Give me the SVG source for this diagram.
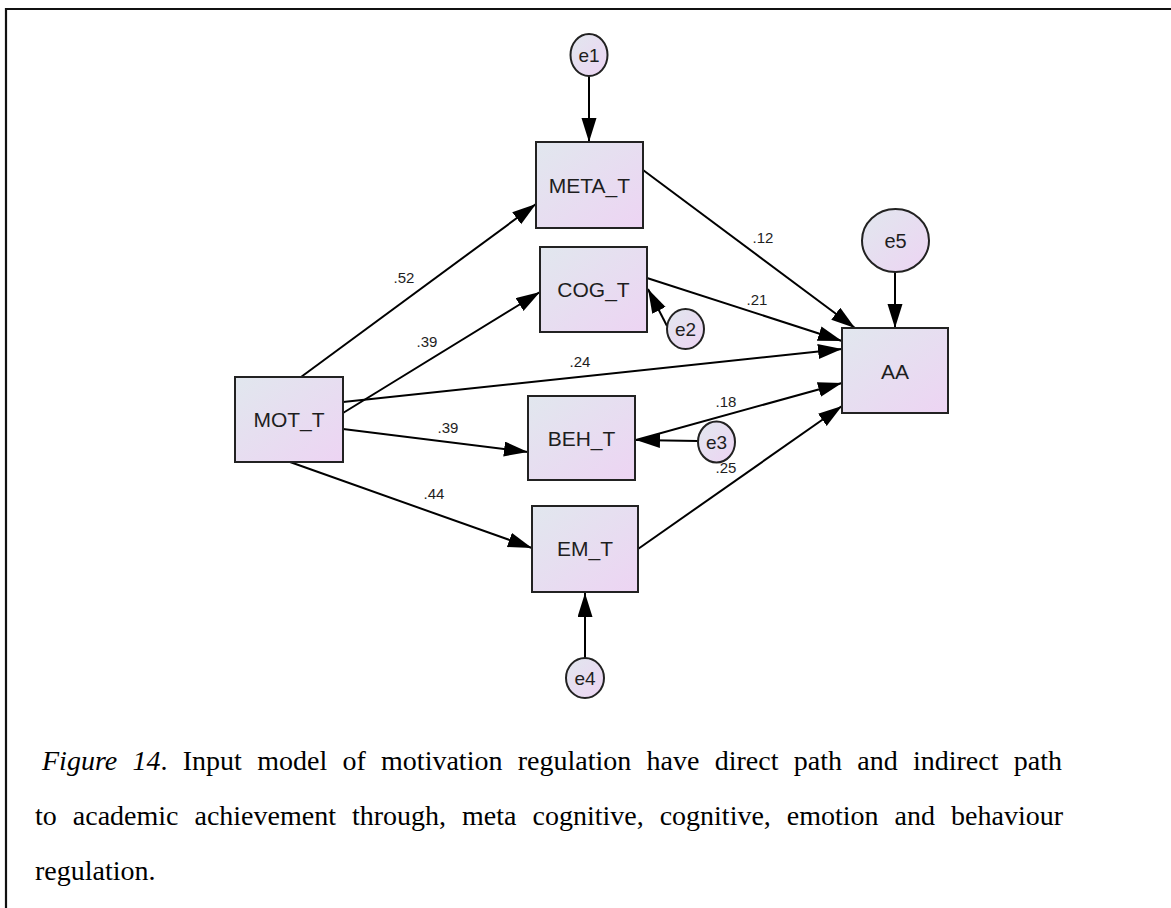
<svg xmlns="http://www.w3.org/2000/svg" width="1171" height="908" viewBox="0 0 1171 908">
  <defs>
    <linearGradient id="fillGrad" x1="0" y1="0" x2="1" y2="1">
      <stop offset="0" stop-color="#e1e7ee"/>
      <stop offset="1" stop-color="#edd4f3"/>
    </linearGradient>
    <marker id="arrow" markerUnits="userSpaceOnUse" markerWidth="26" markerHeight="16" refX="24" refY="7.5" orient="auto">
      <path d="M0,0 L24,7.5 L0,15 z" fill="#000"/>
    </marker>
    <style>
      .box { fill: url(#fillGrad); stroke: #222; stroke-width: 2; }
      .err { fill: url(#fillGrad); stroke: #222; stroke-width: 2; }
      .lbl { font-family: "Liberation Sans", Arial, sans-serif; font-size: 21px; fill: #1e1e1e; text-anchor: middle; dominant-baseline: central; }
      .elbl { font-family: "Liberation Sans", Arial, sans-serif; font-size: 19px; fill: #1e1e1e; text-anchor: middle; dominant-baseline: central; }
      .coef { font-family: "Liberation Sans", Arial, sans-serif; font-size: 15px; fill: #1e1e1e; text-anchor: middle; dominant-baseline: central; }
      .path { stroke: #000; stroke-width: 2; fill: none; marker-end: url(#arrow); }
      .cap { font-family: "Liberation Serif", "Times New Roman", serif; font-size: 28px; fill: #000; }
    </style>
  </defs>

  <rect width="1171" height="908" fill="#fff"/>

  <!-- page frame -->
  <path d="M6,908 L6,9 L1171,9" fill="none" stroke="#111" stroke-width="2.2"/>

  <!-- connectors -->
  <g id="connectors">
    <line class="path" x1="589" y1="76" x2="589" y2="142"/>
    <line class="path" x1="667" y1="326" x2="648" y2="289"/>
    <line class="path" x1="698" y1="441" x2="636" y2="440"/>
    <line class="path" x1="585" y1="658" x2="585" y2="593"/>
    <line class="path" x1="895" y1="272" x2="895" y2="328"/>
    <line class="path" x1="301" y1="377" x2="536" y2="204"/>
    <line class="path" x1="343" y1="413" x2="540" y2="292"/>
    <line class="path" x1="343" y1="402" x2="842" y2="349"/>
    <line class="path" x1="343" y1="429" x2="528" y2="452"/>
    <line class="path" x1="290" y1="462" x2="532" y2="548"/>
    <line class="path" x1="643" y1="170" x2="855" y2="328"/>
    <line class="path" x1="647" y1="278" x2="842" y2="341"/>
    <line class="path" x1="636" y1="440" x2="842" y2="383"/>
    <line class="path" x1="638" y1="549" x2="842" y2="406"/>

    <text class="coef" x="404" y="277">.52</text>
    <text class="coef" x="427" y="341">.39</text>
    <text class="coef" x="580" y="361">.24</text>
    <text class="coef" x="448" y="427">.39</text>
    <text class="coef" x="434" y="493">.44</text>
    <text class="coef" x="763" y="237">.12</text>
    <text class="coef" x="757" y="299">.21</text>
    <text class="coef" x="726" y="401">.18</text>
    <text class="coef" x="726" y="467">.25</text>
  </g>

  <!-- observed variables -->
  <g id="META_T">
    <rect class="box" x="536" y="142" width="107" height="86"/>
    <text class="lbl" x="589.5" y="185">META_T</text>
  </g>
  <g id="COG_T">
    <rect class="box" x="540" y="247" width="107" height="85"/>
    <text class="lbl" x="593.5" y="289">COG_T</text>
  </g>
  <g id="MOT_T">
    <rect class="box" x="235" y="377" width="108" height="85"/>
    <text class="lbl" x="289" y="419">MOT_T</text>
  </g>
  <g id="BEH_T">
    <rect class="box" x="528" y="396" width="107" height="84"/>
    <text class="lbl" x="581.5" y="438">BEH_T</text>
  </g>
  <g id="EM_T">
    <rect class="box" x="532" y="506" width="106" height="86"/>
    <text class="lbl" x="585" y="548">EM_T</text>
  </g>
  <g id="AA">
    <rect class="box" x="842" y="328" width="106" height="85"/>
    <text class="lbl" x="895" y="371">AA</text>
  </g>

  <!-- error terms -->
  <g id="e1">
    <ellipse class="err" cx="589" cy="55" rx="18.5" ry="21"/>
    <text class="elbl" x="589" y="55">e1</text>
  </g>
  <g id="e2">
    <ellipse class="err" cx="685.5" cy="329" rx="18.5" ry="20"/>
    <text class="elbl" x="685.5" y="329">e2</text>
  </g>
  <g id="e3">
    <ellipse class="err" cx="716.5" cy="442" rx="18.5" ry="20.5"/>
    <text class="elbl" x="716.5" y="442">e3</text>
  </g>
  <g id="e4">
    <ellipse class="err" cx="585" cy="678" rx="19" ry="20"/>
    <text class="elbl" x="585" y="678">e4</text>
  </g>
  <g id="e5">
    <ellipse class="err" cx="895.5" cy="240.5" rx="33.5" ry="31.5"/>
    <text class="elbl" x="895.5" y="240.5" style="font-size:20px">e5</text>
  </g>

  <!-- caption, justified with word spacing -->
  <g id="caption">
    <text class="cap" x="42" y="770" word-spacing="8.3"><tspan font-style="italic">Figure 14</tspan>. Input model of motivation regulation have direct path and indirect path</text>
    <text class="cap" x="35" y="825" word-spacing="9">to academic achievement through, meta cognitive, cognitive, emotion and behaviour</text>
    <text class="cap" x="35" y="880">regulation.</text>
  </g>
</svg>
